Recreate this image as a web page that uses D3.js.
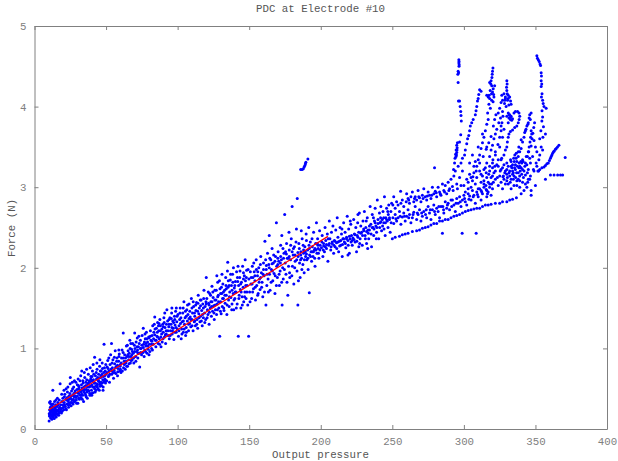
<!DOCTYPE html>
<html>
<head>
<meta charset="utf-8">
<script src="https://cdn.jsdelivr.net/npm/d3@7"></script>
<style>
html, body { margin: 0; padding: 0; background: #fff; overflow: hidden; }
svg { display: block; }
text { font-family: "Liberation Mono", monospace; }
</style>
</head>
<body>
<svg id="chart"></svg>
<script>
// values: [output pressure, force]
const startBlob = [[10.2,.1],[10.5,.33],[11,.34],[10.4,.16],[10.8,.2],[11.2,.14],[11.5,.18],[11.8,.22],[10.6,.24],[11.1,.27],[12.1,.12],[12.3,.17],[12.6,.2],[12.9,.24],[13,.15],[13.3,.19],[13.5,.27],[13.8,.13],[14,.22],[14.2,.17],[14.5,.25],[14.8,.3],[15,.2],[15.2,.15],[15.5,.23],[15.8,.28],[16,.18],[16.3,.33],[16.7,.24],[17,.2],[17.3,.36],[17.6,.27],[18,.22],[18.3,.3],[17.9,.56],[12.8,.48],[10.3,.19],[10.9,.23],[11.4,.21],[11.9,.16],[12.4,.25],[13.1,.21],[13.7,.17],[14.3,.2],[14.9,.24],[15.4,.19],[16.1,.22],[16.6,.3],[17.2,.25],[18.8,.2],[19.2,.34],[19.5,.26],[19.8,.38],[20,.3],[12,.3],[13,.31],[14,.34],[15,.36],[16,.38]];
const band20to50 = [[20.4,.24],[20.8,.33],[21.2,.43],[21.6,.28],[22,.37],[22.3,.24],[22.7,.31],[23,.46],[23.4,.35],[23.8,.27],[24.1,.41],[24.5,.3],[25,.64],[25.2,.38],[25.6,.29],[25.9,.47],[26.3,.36],[26.7,.42],[27,.31],[27.4,.52],[27.8,.4],[28.1,.34],[28.5,.45],[28.9,.58],[29.2,.36],[29.6,.49],[30,.41],[30.3,.32],[30.7,.54],[31,.44],[31.4,.37],[31.8,.6],[32.1,.48],[32.5,.39],[33,.72],[33.2,.51],[33.6,.42],[34,.57],[34.3,.34],[34.7,.46],[35.1,.64],[35.4,.53],[35.8,.42],[36.2,.49],[36.5,.61],[36.9,.38],[37.2,.56],[37.6,.68],[38,.47],[38.3,.52],[38.7,.42],[39.1,.59],[39.4,.65],[39.8,.48],[40.1,.55],[40.5,.72],[40.9,.45],[41.2,.61],[41.6,.52],[42,.89],[42.2,.57],[42.6,.66],[43,.48],[43.3,.62],[43.7,.74],[44,.55],[44.4,.5],[44.8,.68],[45.1,.59],[45.5,.78],[45.9,.53],[46.2,.64],[46.6,.72],[47,.57],[47.3,.82],[47.7,.61],[48,.52],[48.4,.7],[48.6,1.05],[48.9,.76],[49.2,.62],[49.6,.57],[50,.68],[21,.3],[22.5,.36],[24,.33],[26,.33],[27.2,.37],[28.6,.41],[30.2,.45],[31.6,.47],[33,.43],[34.5,.52],[36,.54],[37.5,.48],[39,.53],[40.4,.6],[42,.5],[43.5,.56],[45,.63],[46.4,.58],[48,.65],[49.4,.72]];
const fill10to50 = [[11.3,.31],[12.7,.28],[14.6,.28],[16.9,.17],[18.5,.25],[19.3,.22],[20.2,.27],[20.9,.4],[21.9,.25],[22.9,.39],[23.6,.3],[24.7,.44],[25.4,.33],[26.6,.5],[27.6,.34],[28.3,.47],[29.4,.32],[29.9,.55],[30.9,.38],[31.9,.42],[32.8,.55],[33.4,.37],[34.1,.48],[35.3,.44],[35.9,.58],[36.7,.46],[37.8,.57],[38.5,.44],[39.3,.62],[40,.42],[40.7,.52],[41.4,.68],[42.4,.46],[43.1,.7],[43.9,.52],[44.6,.6],[45.3,.48],[46,.72],[46.8,.54],[47.5,.75],[48.2,.58],[49,.66],[49.8,.8],[19,.43],[20.6,.48],[22.1,.5],[23.3,.52],[24.9,.56],[26.4,.58],[27.9,.6],[30.5,.62],[32.3,.66],[34.8,.7],[36.4,.74],[38.9,.76],[41,.8],[43.6,.82],[45.7,.86],[47.1,.68],[30.8,.5],[32.7,.46],[35,.49],[37,.52],[38.1,.6],[40.2,.65],[41.8,.57],[44.2,.64],[46.3,.66],[48.8,.6],[24.3,.37],[25.8,.41],[27.5,.44],[29,.39],[31.2,.52],[33.8,.6],[36.1,.4],[39.6,.44],[42.8,.53],[45.6,.56],[47.9,.48],[49.9,.6]];
const band50to100 = [[50.4,.6],[50.8,.77],[51.2,.85],[51.6,.65],[52,.72],[52.4,.58],[52.8,.8],[53.2,.92],[53.8,1.06],[54,.68],[54.4,.76],[54.8,.86],[55.2,.63],[55.6,.73],[56,.81],[56.4,.97],[56.8,.69],[57.2,.78],[57.6,.88],[58,.66],[58.4,.75],[58.8,.84],[59.2,.93],[59.6,.72],[60,.8],[60.4,.7],[60.8,.88],[61.2,.98],[62,1.19],[62.2,.76],[62.6,.84],[63,.92],[63.4,.74],[63.8,.82],[64.2,1.03],[64.6,.9],[65,.78],[65.4,.97],[65.8,.86],[66.2,.94],[66.6,1.1],[67,.82],[67.4,.9],[67.8,.99],[68.2,.86],[68.6,1.06],[69,.94],[69.4,.82],[70,1.19],[70.2,1],[70.6,.9],[71,1.08],[71.4,.96],[71.8,1.13],[72.2,.88],[72.6,1.02],[73,.94],[73.5,.77],[74,1.1],[74.4,1],[74.8,.92],[75.2,1.16],[76,1.25],[76.2,1.05],[76.6,.9],[77,.98],[77.4,1.12],[77.8,1.03],[78.2,1.2],[78.6,.94],[79,1.08],[79.4,.99],[79.8,1.14],[80.2,1.05],[80.6,.96],[81,1.22],[81.4,1.1],[81.8,1],[82.2,1.16],[82.6,1.28],[83,1.05],[83.4,1.2],[84,1.39],[84.4,1.1],[84.8,1.02],[85.2,1.25],[85.6,1.15],[86,1.32],[86.4,1.06],[86.8,1.22],[87.2,1.12],[87.6,1.36],[88,1.28],[88.4,1.02],[88.8,1.18],[89.2,1.08],[89.6,1.3],[90,1.2],[90.4,1.38],[90.8,1.14],[91.2,1.26],[91.6,1.06],[92,1.22],[92.5,1.48],[93,1.34],[93.4,1.16],[93.8,1.27],[94.2,1.12],[94.6,1.38],[95,1.22],[95.4,1.3],[95.8,1.44],[96.2,1.18],[96.6,1.34],[97,1.25],[97.4,1.11],[97.8,1.4],[98.2,1.29],[98.6,1.46],[99,1.2],[99.4,1.33],[99.8,1.24],[52,.66],[54,.72],[56,.7],[58,.79],[60,.74],[62,.88],[64,.84],[66,.9],[68,.92],[70,.96],[72,.98],[74,1],[76,1.01],[78,1.06],[80,1.13],[82,1.09],[84,1.17],[86,1.14],[88,1.22],[90,1.27],[92,1.18],[94,1.3],[96,1.26],[98,1.36]];
const fill50to100 = [[50.6,.7],[51.4,.75],[51.9,.88],[52.6,.68],[53.4,.74],[54.2,.82],[55,.7],[55.8,.89],[56.6,.76],[57.4,.84],[58.2,.71],[59,.9],[59.8,.78],[60.6,.82],[61.4,.72],[61.9,.95],[62.8,.8],[63.6,.88],[64.4,.78],[65.2,.92],[66,.81],[66.8,1],[67.6,.85],[68.4,.96],[69.2,.88],[69.8,1.04],[70.8,.84],[71.6,1.02],[72.4,.94],[73.2,1.06],[74.2,.95],[75,1.04],[75.8,.95],[76.8,1.08],[77.6,.96],[78.4,1.12],[79.2,1.03],[80,.92],[80.9,1.15],[81.6,1.05],[82.4,.98],[83.2,1.12],[84.2,1.24],[85,1.1],[85.8,1.2],[86.6,1.28],[87.4,1.05],[88.2,1.14],[89,1.24],[89.8,1.12],[90.6,1.32],[91.4,1.17],[92.2,1.3],[93.2,1.22],[94,1.36],[94.8,1.16],[95.6,1.37],[96.4,1.22],[97.2,1.32],[98,1.2],[98.8,1.26],[99.6,1.4],[58.9,.98],[64.9,1.04],[67.3,1.06],[72.9,1.15],[77.2,1.18],[83.7,1.3],[87,1.31],[91,1.44],[96,1.5],[99.1,1.5]];
const band100to150 = [[100.2,1.42],[100.6,1.15],[101,1.28],[101.4,1.36],[101.8,1.5],[102.5,1.12],[102.8,1.24],[103.2,1.33],[103.6,1.44],[104,1.2],[104.4,1.58],[104.8,1.3],[105.2,1.38],[105.6,1.16],[106,1.26],[106.4,1.48],[106.8,1.34],[107.2,1.42],[107.6,1.22],[108,1.55],[108.4,1.31],[108.8,1.39],[109.2,1.27],[109.6,1.62],[110,1.36],[110.4,1.44],[110.8,1.22],[111.2,1.52],[111.6,1.33],[112,1.4],[112.4,1.28],[112.8,1.47],[113.2,1.57],[113.6,1.36],[114,1.25],[114.4,1.66],[114.8,1.43],[115.2,1.5],[115.6,1.33],[116,1.4],[116.4,1.6],[116.8,1.47],[117.2,1.28],[117.6,1.55],[118,1.38],[118.4,1.72],[118.8,1.44],[119.2,1.52],[119.6,1.36],[120,1.88],[120.4,1.62],[120.8,1.48],[121.2,1.42],[121.6,1.56],[122,1.3],[122.4,1.68],[122.8,1.5],[123.2,1.58],[123.6,1.4],[124,1.77],[124.4,1.46],[124.8,1.63],[125.2,1.53],[125.6,1.36],[126,1.72],[126.4,1.48],[126.8,1.6],[127.2,1.42],[127.6,1.55],[128,1.82],[128.4,1.66],[128.8,1.5],[129.4,1.15],[129.6,1.74],[130,1.58],[130.4,1.43],[130.8,1.68],[131.2,1.52],[131.6,1.8],[132,1.62],[132.4,1.47],[132.8,1.72],[133.2,1.56],[133.6,1.88],[134,1.66],[134.4,1.42],[135,2.07],[135.2,1.76],[135.6,1.6],[136,1.52],[136.4,1.7],[136.8,1.85],[137.2,1.63],[137.6,1.78],[138,1.55],[138.4,1.92],[138.8,1.68],[139.2,1.48],[139.6,1.75],[140,1.62],[140.4,1.83],[140.8,1.7],[141.2,1.95],[141.6,1.55],[142.4,1.15],[142.6,1.78],[143,1.66],[143.4,1.88],[143.8,1.73],[144.2,1.5],[144.6,1.82],[145,1.64],[145.4,2.02],[145.8,1.76],[146.2,1.58],[146.6,1.9],[147,1.7],[147.4,1.84],[147.8,1.62],[148.2,1.97],[148.6,1.78],[149,1.54],[149.6,1.15],[149.8,1.86],[102,1.31],[104,1.34],[106,1.4],[108,1.37],[110,1.5],[112,1.34],[114,1.46],[116,1.53],[118,1.5],[120,1.55],[122,1.54],[124,1.58],[126,1.6],[128,1.64],[130,1.68],[132,1.7],[134,1.74],[136,1.78],[138,1.72],[140,1.78],[142,1.83],[144,1.8],[146,1.86],[148,1.88]];
const fill100to150 = [[100.9,1.22],[101.6,1.44],[102.3,1.38],[103,1.18],[103.9,1.5],[104.6,1.24],[105.4,1.46],[106.1,1.2],[106.9,1.54],[107.7,1.3],[108.5,1.46],[109.3,1.36],[110.1,1.28],[110.9,1.58],[111.8,1.44],[112.6,1.54],[113.4,1.3],[114.2,1.56],[115,1.38],[115.8,1.6],[116.6,1.34],[117.4,1.42],[118.2,1.62],[119,1.32],[119.8,1.58],[120.6,1.38],[121.4,1.7],[122.2,1.45],[123,1.66],[123.8,1.52],[124.6,1.7],[125.4,1.44],[126.2,1.54],[127,1.72],[127.8,1.48],[128.6,1.58],[129.2,1.84],[129.9,1.46],[130.6,1.76],[131.4,1.62],[132.2,1.5],[133,1.66],[133.8,1.78],[134.6,1.54],[135.4,1.84],[136.2,1.64],[137,1.92],[137.8,1.48],[138.6,1.82],[139.4,1.6],[140.2,1.7],[141,1.5],[141.8,1.88],[142.8,1.62],[143.6,1.96],[144.4,1.7],[145.2,1.54],[146,1.94],[146.8,1.64],[147.6,1.78],[148.4,1.7],[149.2,1.98],[127.4,1.9],[131,1.92],[134.8,1.96],[139,2],[142.2,2.02],[147.2,2.1]];
const band150to200 = [[150.3,1.7],[150.8,1.95],[151.2,1.8],[151.7,1.62],[152.2,2.02],[152.6,1.88],[153,1.74],[153.5,1.95],[154,1.84],[154.4,1.6],[154.9,2.1],[155.3,1.78],[155.8,1.9],[156.3,1.68],[156.7,2],[157.2,1.86],[157.6,1.73],[158.1,2.14],[158.5,1.94],[159,1.82],[159.5,1.64],[160,2.06],[160.4,1.9],[161,2.33],[161.7,1.54],[161.9,1.98],[162.3,1.78],[162.8,2.18],[163.2,1.86],[163.7,2.04],[164.2,1.92],[164.6,1.72],[165.1,2.1],[165.5,1.98],[166,2.24],[166.5,1.84],[166.9,2.06],[167.4,1.93],[168,1.68],[168.4,2.14],[169,2.56],[169.2,2.02],[169.7,1.88],[170.2,2.2],[170.6,2.08],[171.1,1.78],[171.6,1.96],[172,2.28],[172.5,2.1],[173,1.54],[173.4,2],[173.8,1.86],[174.3,2.18],[174.8,2.66],[175.2,2.06],[175.7,1.92],[176.1,2.3],[176.6,2.12],[177,1.66],[177.5,2.02],[178,2.22],[178.4,1.88],[178.9,2.1],[179.4,2.36],[180,2.76],[180.2,2.02],[180.7,2.16],[181.2,1.8],[181.6,2.26],[182.1,2.08],[183,2.48],[183.6,2.86],[183.4,1.96],[184,1.54],[184.2,2.14],[184.7,2.3],[185.2,2.06],[185.6,1.88],[186.1,2.2],[186.6,2.12],[187,2.36],[187.5,2.04],[188,2.18],[188.4,1.94],[188.9,2.26],[189.4,2.14],[189.8,2.42],[190.3,2.1],[190.8,2.22],[191.2,1.98],[192,1.69],[192.2,2.16],[192.7,2.32],[193.2,2.2],[193.6,2.08],[194.1,2.26],[194.6,2.14],[195,2.44],[195.5,2.22],[196,2.02],[196.4,2.3],[197,2.56],[197.3,2.18],[197.8,2.36],[198.2,2.24],[198.7,2.12],[199.2,2.46],[199.6,2.28],[152,1.8],[154,1.9],[156,1.95],[158,1.88],[160,1.98],[162,2.03],[164,2],[166,2.05],[168,2.08],[170,2.04],[172,2.14],[174,2.12],[176,2.17],[178,2.14],[180,2.2],[182,2.16],[184,2.19],[186,2.16],[188,2.22],[190,2.17],[192,2.24],[194,2.2],[196,2.24],[198,2.28]];
const fill150to200 = [[150.6,1.58],[151.4,1.88],[152.4,1.7],[153.2,2.06],[154.2,1.76],[155,1.98],[155.9,1.66],[156.9,1.82],[157.8,2.04],[158.7,1.76],[159.7,1.92],[160.7,1.7],[161.5,2.1],[162.5,1.92],[163.4,1.7],[164.4,2.12],[165.3,1.82],[166.2,1.96],[167.1,2.16],[168.2,1.9],[169,1.78],[170,2.12],[170.9,1.92],[171.8,2.06],[172.7,1.82],[173.6,2.24],[174.6,1.98],[175.4,2.2],[176.4,1.82],[177.3,2.12],[178.2,1.94],[179,2.28],[179.8,1.9],[180.9,2.24],[181.8,2],[182.7,2.32],[183.2,2.1],[184.4,1.84],[185,2.24],[185.9,2.1],[186.8,1.98],[187.7,2.28],[188.6,2.1],[189.2,2.2],[190,2.34],[191,2.12],[191.8,2.28],[192.9,2.14],[193.9,2.36],[194.9,2.2],[195.8,2.12],[196.7,2.22],[197.6,2.3],[198.4,2.18],[199.4,2.22],[164,2.4],[172.8,2.4],[177.8,2.44],[186.4,2.46],[191.6,2.5]];
const isolatedTop = [[186,3.22],[187,3.22],[187.8,3.23],[188.4,3.25],[188.9,3.27],[189.3,3.29],[189.6,3.31],[191,3.35]];
const band200to250 = [[200.5,2.25],[201,2.4],[201.5,2.14],[202,2.3],[202.6,2.2],[203,2.5],[203.5,2.34],[204,2.24],[204.6,2.42],[205,2.08],[205.5,2.28],[206,2.58],[206.4,2.36],[207,2.22],[207.5,2.44],[208,2.3],[208.5,2.52],[209,2.18],[209.5,2.34],[210,2.26],[210.5,2.47],[211,2.31],[211.5,2.62],[212,2.38],[212.5,2.2],[213,2.33],[213.5,2.5],[214,2.28],[214.5,2.42],[215,2.14],[215.5,2.36],[216,2.56],[216.5,2.32],[217,2.44],[217.5,2.25],[218,2.38],[218.5,2.64],[219,2.34],[219.5,2.48],[220,2.18],[220.5,2.36],[221,2.54],[221.5,2.4],[222,2.28],[222.5,2.37],[223,2.6],[223.5,2.42],[224,2.32],[224.5,2.5],[225,2.2],[225.5,2.4],[226,2.66],[226.5,2.44],[227,2.68],[227.5,2.36],[228,2.52],[228.5,2.44],[229,2.28],[229.5,2.58],[230,2.46],[230.5,2.7],[231,2.4],[231.5,2.5],[232,2.3],[232.5,2.62],[233,2.47],[233.5,2.36],[234,2.47],[234.5,2.76],[235,2.54],[235.5,2.26],[236,2.66],[236.5,2.5],[237,2.4],[237.5,2.58],[238,2.74],[238.5,2.52],[239,2.44],[239.5,2.84],[240,2.55],[240.5,2.36],[241,2.68],[241.5,2.56],[242,2.76],[242.5,2.46],[243,2.6],[243.5,2.7],[244,2.56],[244.5,2.88],[245,2.4],[245.5,2.62],[246,2.74],[246.5,2.58],[247,2.5],[247.5,2.78],[248,2.62],[248.5,2.44],[249,2.7],[249.5,2.8],[202,2.27],[204,2.29],[206,2.3],[208,2.32],[210,2.33],[212,2.32],[214,2.34],[216,2.36],[218,2.36],[220,2.39],[222,2.34],[224,2.41],[226,2.38],[228,2.43],[230,2.48],[232,2.45],[234,2.52],[236,2.5],[238,2.56],[240,2.6],[242,2.57],[244,2.62],[246,2.6],[248,2.6]];
const fill200to250 = [[200.8,2.32],[201.8,2.22],[203.2,2.26],[205.2,2.36],[207.2,2.26],[209.2,2.28],[211.2,2.24],[213.2,2.27],[215.2,2.29],[217.2,2.3],[219.2,2.28],[221.2,2.32],[223.2,2.35],[225.2,2.33],[227.2,2.3],[229.2,2.4],[231.2,2.36],[233.2,2.43],[235.2,2.42],[237.2,2.48],[239.2,2.5],[241.2,2.5],[243.2,2.52],[245.2,2.56],[247.2,2.66],[249.2,2.56],[214.8,2.48],[220.6,2.58],[225.8,2.56],[231.8,2.58],[236.8,2.62],[241.8,2.62],[246.8,2.7],[219,2.16],[226.6,2.26],[232.8,2.24],[238.8,2.36],[244.2,2.48]];
const lowerBranch = [[250,2.36],[252,2.38],[255,2.39],[257,2.41],[259,2.42],[261,2.43],[264,2.45],[267,2.46],[269,2.47],[271,2.49],[273,2.5],[275,2.51],[277,2.53],[279,2.55],[281,2.55],[283,2.58],[285,2.58],[287,2.6],[289,2.6],[291,2.62],[293,2.64],[295,2.65],[297,2.66],[299,2.68],[301,2.7],[303,2.71],[305,2.72],[307,2.73],[309,2.74],[311,2.74],[313,2.76],[315,2.78],[317,2.78],[319,2.79],[322,2.8],[325,2.8],[327,2.82],[330,2.82],[332,2.84],[334,2.85],[336.7,2.87],[285,2.43],[298.8,2.43],[308.6,2.43]];
const middleBranch = [[250.4,2.62],[251,2.55],[252,2.66],[253,2.58],[254,2.62],[255,2.7],[256,2.54],[257,2.63],[258,2.68],[259,2.58],[260,2.64],[261,2.72],[262,2.66],[263,2.56],[264,2.62],[265,2.69],[266,2.76],[267,2.6],[268,2.66],[269,2.72],[270,2.58],[271,2.64],[272,2.7],[273.7,2.72],[274,2.62],[275,2.76],[276,2.68],[277,2.6],[278,2.72],[279,2.78],[280,2.66],[281,2.74],[282,2.7],[283,2.62],[284,2.76],[285.3,2.76],[286,2.68],[287,2.82],[288,2.74],[289,2.8],[290,2.72],[291,2.84],[292,2.84],[293,2.78],[294,2.7],[295,2.86],[296,2.8],[297,2.88],[298,2.76],[299,2.84],[300,2.9],[301,2.82],[302,2.78],[303,2.92],[304,2.89],[305,2.84],[306,2.96],[307,2.9],[308,2.8],[309,2.94],[310,2.88],[311,2.98],[312,2.84],[313,2.92],[314,3],[315.6,2.97],[316,2.88],[317,2.94],[318,3.04],[319,2.9],[320,2.98],[252.5,2.61],[255.5,2.64],[258.5,2.64],[261.5,2.62],[264.5,2.66],[267.5,2.68],[270.5,2.68],[273.2,2.66],[276.5,2.72],[279.5,2.7],[282.5,2.76],[285.8,2.72],[288.5,2.78],[291.5,2.76],[294.5,2.8],[297.5,2.82],[300.5,2.86],[303.5,2.85],[306.5,2.88],[309.5,2.91],[312.5,2.94],[316.5,2.92]];
const upperBranch = [[250.4,2.78],[251,2.88],[252,2.74],[253,2.82],[254,2.78],[255.8,2.95],[256,2.8],[257,2.84],[258,2.76],[259.7,2.82],[260,2.92],[261,2.86],[262,2.8],[263,2.88],[264,2.94],[265,2.82],[266,2.88],[267,2.84],[268,2.96],[269,2.87],[270,2.82],[271,2.9],[272,2.98],[273,2.88],[274,2.84],[275,2.94],[276,2.9],[277,2.86],[278,3],[279.5,3.24],[279,2.92],[280.7,2.93],[281,2.88],[282,3],[283,2.94],[284,2.9],[285,3.04],[286,2.96],[287,3.02],[288,2.92],[289,3.06],[290,2.98],[291,3.1],[292,3.01],[293,3.14],[294,3.2],[295,3.04],[296,3.26],[297,3.12],[298,3.02],[299,3.2],[261.5,2.84],[265.5,2.86],[268.5,2.88],[271.5,2.86],[274.5,2.89],[277.5,2.9],[280,2.95],[283.5,2.92],[286.5,2.94],[289.5,2.96],[292.5,2.96],[295.5,2.98]];
const column297 = [[296.5,4.58],[296.6,4.56],[296.5,4.54],[296.7,4.52],[296.6,4.5],[296,4.44],[296.3,4.42],[295.8,4.4],[296,4.3],[296.2,4.07],[297,4.07],[297.4,4],[297.8,3.94],[298,3.89],[298.2,3.82],[297.8,3.65],[297,3.56],[295.5,3.55],[295,3.52],[295.3,3.49],[294.6,3.46],[295,3.43],[294.2,3.41],[294.5,3.38],[293.8,3.36],[293.5,3.3],[292.8,3.22],[295.2,3.46],[294.8,3.4]];
const curve310 = [[311,4.21],[312,4.19],[310.4,4.15],[310,4.1],[309.5,4.07],[309,4],[308.5,3.95],[308,3.9],[306.5,3.84],[305.5,3.8],[304.5,3.76],[304,3.7],[303.4,3.64],[302.6,3.6],[302,3.54],[301,3.46],[300.5,3.4],[299,3.36],[298,3.3]];
const peak320 = [[320.3,4.48],[320,4.44],[319.8,4.4],[319.6,4.36],[319,4.32],[318,4.3],[319.5,4.26],[320.5,4.22],[318.4,4.2],[319.3,4.16],[320.8,4.15],[321.5,4.26],[317,4.12],[316,4.14],[318,4.1],[319.4,4.08],[320.4,4.06],[317.5,4.03],[318.5,3.98],[316.6,3.92],[317,3.84],[316,3.78],[315,3.7],[314,3.62],[313,3.55],[312,3.48],[311,3.4],[310,3.34],[309,3.26],[307,3.18],[305,3.12],[303,3.06],[318.8,4.28],[320,4.18],[317.6,4.14],[321,4.12],[321.5,3.84],[320.6,3.76],[319,3.63],[317.4,3.55],[315.6,3.47],[313.5,3.38],[311,3.3],[308.6,3.2],[306.3,3.13]];
const peak330 = [[330,4.32],[330.2,4.28],[329.8,4.24],[330,4.2],[330.3,4.16],[328,4.16],[326.5,4.14],[331,4.14],[332,4.12],[329,4.1],[327,4.08],[330.5,4.08],[332.6,4.07],[326,4.05],[328.4,4.04],[331.4,4.02],[333,4.03],[329.5,4],[325,3.98],[324,3.92],[327,3.94],[322.4,3.9],[325.6,3.86],[324.4,3.8],[323,3.72],[322,3.66],[321,3.6],[320,3.52],[319,3.46],[318,3.38],[316,3.3],[314,3.22],[312,3.16],[327.3,3.88],[326.6,3.8],[326,3.7],[325,3.62],[323.8,3.53],[322,3.44],[320.3,3.34],[318,3.26],[315.6,3.18],[329,4.12],[331,4.1],[328.6,4.08]];
const hook335 = [[331,3.92],[332,3.9],[333,3.88],[331.5,3.86],[332.5,3.84],[334,3.85],[335,3.92],[336,3.94],[337.5,3.94],[338.5,3.92],[339,3.88],[338.6,3.84],[338,3.8],[337,3.76],[335.5,3.74],[334,3.71],[332.5,3.69],[331.5,3.66],[331,3.62],[330.4,3.56],[330,3.5],[329,3.46],[328,3.4],[326,3.34],[324,3.26],[322,3.2],[320,3.14],[331.6,3.9],[332.6,3.87],[333.4,3.83],[331,3.8],[330,3.88]];
const strands340 = [[346,3.9],[345.6,3.86],[345,3.8],[344,3.76],[343.4,3.72],[342.5,3.68],[342,3.62],[341,3.56],[340,3.48],[339,3.44],[338,3.38],[337,3.32],[336,3.28],[334,3.2],[332,3.14],[330,3.08],[347,3.7],[347.4,3.66],[346.6,3.62],[346.2,3.56],[345.6,3.5],[345,3.44],[344.4,3.38],[343,3.3],[341,3.22],[339,3.14],[337,3.08],[335,3.02],[333,2.98],[349,3.58],[350,3.5],[351,3.44],[348,3.38],[346.5,3.3],[345,3.22],[343,3.15],[341,3.06],[339,3],[350.5,3.3],[348.6,3.22],[346.5,3.14],[344.6,3.06],[342,2.96],[340,2.92],[347,3.92],[346.4,3.84],[344.7,3.78],[343,3.7],[340,3.59],[338.4,3.5],[336.6,3.42],[334.8,3.36],[333,3.32],[330,3.22],[327.3,3.13],[349.4,3.8],[348.8,3.74],[348.2,3.67],[347.6,3.6],[347,3.51],[345.3,3.44],[343.6,3.38],[341.4,3.32],[339,3.26]];
const column352 = [[351,4.63],[351.4,4.6],[352,4.58],[352.6,4.56],[353.2,4.53],[353.6,4.51],[354,4.42],[354.2,4.38],[354,4.32],[354.4,4.28],[354,4.25],[354.6,4.16],[354.2,4.12],[355,4.08],[355.4,4.04],[356,4],[357.5,3.98],[354.6,3.95],[355,3.87],[354.5,3.82],[355.6,3.75],[353.8,3.7],[357,3.66],[355.2,3.62],[353,3.6],[354,3.5],[355,3.46],[353,3.4],[352.4,3.34],[351,3.26],[349,3.2],[346,3.1],[344,3],[352.2,3.2]];
const risingRight = [[351.7,3.2],[353,3.22],[354.5,3.24],[356,3.25],[357,3.27],[358,3.29],[359,3.3],[359.8,3.33],[360.5,3.36],[361,3.38],[361.5,3.4],[362,3.42],[362.6,3.44],[363.2,3.45],[364,3.47],[364.5,3.48],[365.4,3.5],[366.4,3.52],[370.8,3.37],[360.5,3.15],[363,3.15],[365.5,3.15],[367.5,3.15],[369,3.15],[357,3.1],[350,3.02],[347,2.96]];
const fan300to350 = [[300,3.02],[301,2.94],[302,3.1],[303,2.98],[304,3.16],[305,3],[306,3.08],[307,3.26],[308,3.04],[309,3.12],[310,2.98],[311,3.2],[312,3.06],[313,3.14],[314,3.04],[315,3.24],[316,3.12],[317,3.06],[318,3.2],[319,3.12],[320,3.3],[320.6,3.06],[321,3.18],[322,3.1],[323,3.28],[324,3.02],[325,3.14],[326,3.22],[327,2.98],[328,3.1],[329,3.2],[330,3.3],[331,3.04],[332,3.2],[332.6,3.34],[333,3.1],[334,3.28],[335,3.14],[335.6,3.4],[336,3.22],[337,3.02],[338,3.18],[338.6,3.3],[339,3.08],[340,3.24],[341,3.34],[341.6,3.12],[342,3.2],[343,3.04],[344,3.28],[345,3.1],[346,3.36],[347,2.9],[333.5,3.24],[334.5,3.18],[335.2,3.32],[336.5,3.36],[337.4,3.26],[338,3.44],[339.4,3.2],[340.5,3.3],[326,3.06],[327.6,3.14],[329,3.04],[330,3.16],[331,3.26],[328,3.28],[326.4,3.36],[324,3.34],[322,3.4],[320,3.24],[318,3],[316,2.96],[314,3.08],[312,2.96],[308,3.32],[306,3.4],[304,3.3],[310,3.5],[313,3.66],[316,3.5],[325,3.5],[327,3.62],[328,3.72],[326,3.76],[334,3.16],[335.4,3.24],[336.8,3.18],[338.4,3.24],[339.8,3.32],[333,3.26],[331.6,3.18],[330.4,3.12],[332.4,3.06],[334.6,3.1],[336.2,3.12],[338,3.1],[340.4,3.16],[342.6,3.26],[344.4,3.18],[328.6,3.18],[327,3.24],[325.4,3.2],[323.4,3.12],[321.6,3.26],[319.4,3.04],[317.4,3.16],[315.4,3.02]];
const trendX = [10, 205];
const trendY = [0.24, 2.39];

const xTicks = [0, 50, 100, 150, 200, 250, 300, 350, 400];
const yTicks = [0, 1, 2, 3, 4, 5];

const points = [].concat(startBlob, band20to50, fill10to50, band50to100, fill50to100, band100to150, fill100to150,
    band150to200, fill150to200, isolatedTop, band200to250, fill200to250, lowerBranch, middleBranch, upperBranch,
    column297, curve310, peak320, peak330, hook335, strands340, column352, risingRight, fan300to350);

const width = 618;
const height = 461;
const margin = {top: 26, right: 11, bottom: 32, left: 34.5};
const svg = d3.select("#chart").attr("width", width).attr("height", height);

const x = d3.scaleLinear().domain([0, 400]).range([margin.left, width - margin.right]);
const y = d3.scaleLinear().domain([0, 5]).range([height - margin.bottom, margin.top]);

const grey = "#808080";

function styleAxis(g) {
    g.selectAll("path").attr("stroke", grey).attr("stroke-width", 1);
    g.selectAll("line").attr("stroke", grey);
    g.selectAll("text").attr("fill", grey).attr("font-family", "Liberation Mono").attr("font-size", 10.75);
}

svg.append("g").attr("transform", "translate(0," + y(0) + ")")
    .call(d3.axisBottom(x).tickValues(xTicks).tickFormat(d3.format("d")).tickSize(-4).tickSizeOuter(0).tickPadding(8))
    .call(styleAxis);
svg.append("g").attr("transform", "translate(0," + y(5) + ")")
    .call(d3.axisTop(x).tickValues(xTicks).tickFormat("").tickSize(-4).tickSizeOuter(0))
    .call(styleAxis);
svg.append("g").attr("transform", "translate(" + x(0) + ",0)")
    .call(d3.axisLeft(y).tickValues(yTicks).tickFormat(d3.format("d")).tickSize(-4).tickSizeOuter(0).tickPadding(8))
    .call(styleAxis);
svg.append("g").attr("transform", "translate(" + x(400) + ",0)")
    .call(d3.axisRight(y).tickValues(yTicks).tickFormat("").tickSize(-4).tickSizeOuter(0))
    .call(styleAxis);

svg.append("g").selectAll("circle").data(points).enter().append("circle")
    .attr("cx", d => x(d[0]))
    .attr("cy", d => y(d[1]))
    .attr("r", 1.5)
    .attr("fill", "#0000ff");

const trendLine = d3.line().x(d => x(d)).y((d, i) => y(trendY[i]));
svg.append("path").attr("d", trendLine(trendX))
    .attr("fill", "none").attr("stroke", "#ff0000").attr("stroke-width", 1.2);

svg.append("text").attr("x", 320.5).attr("y", 12).attr("text-anchor", "middle")
    .attr("font-size", 10.75).attr("fill", "#555").text("PDC at Electrode #10");
svg.append("text").attr("x", 320.5).attr("y", 458).attr("text-anchor", "middle")
    .attr("font-size", 10.75).attr("fill", "#555").text("Output pressure");
svg.append("text").attr("transform", "translate(15,228) rotate(-90)").attr("text-anchor", "middle")
    .attr("font-size", 10.75).attr("fill", "#555").text("Force (N)");
</script>
</body>
</html>
